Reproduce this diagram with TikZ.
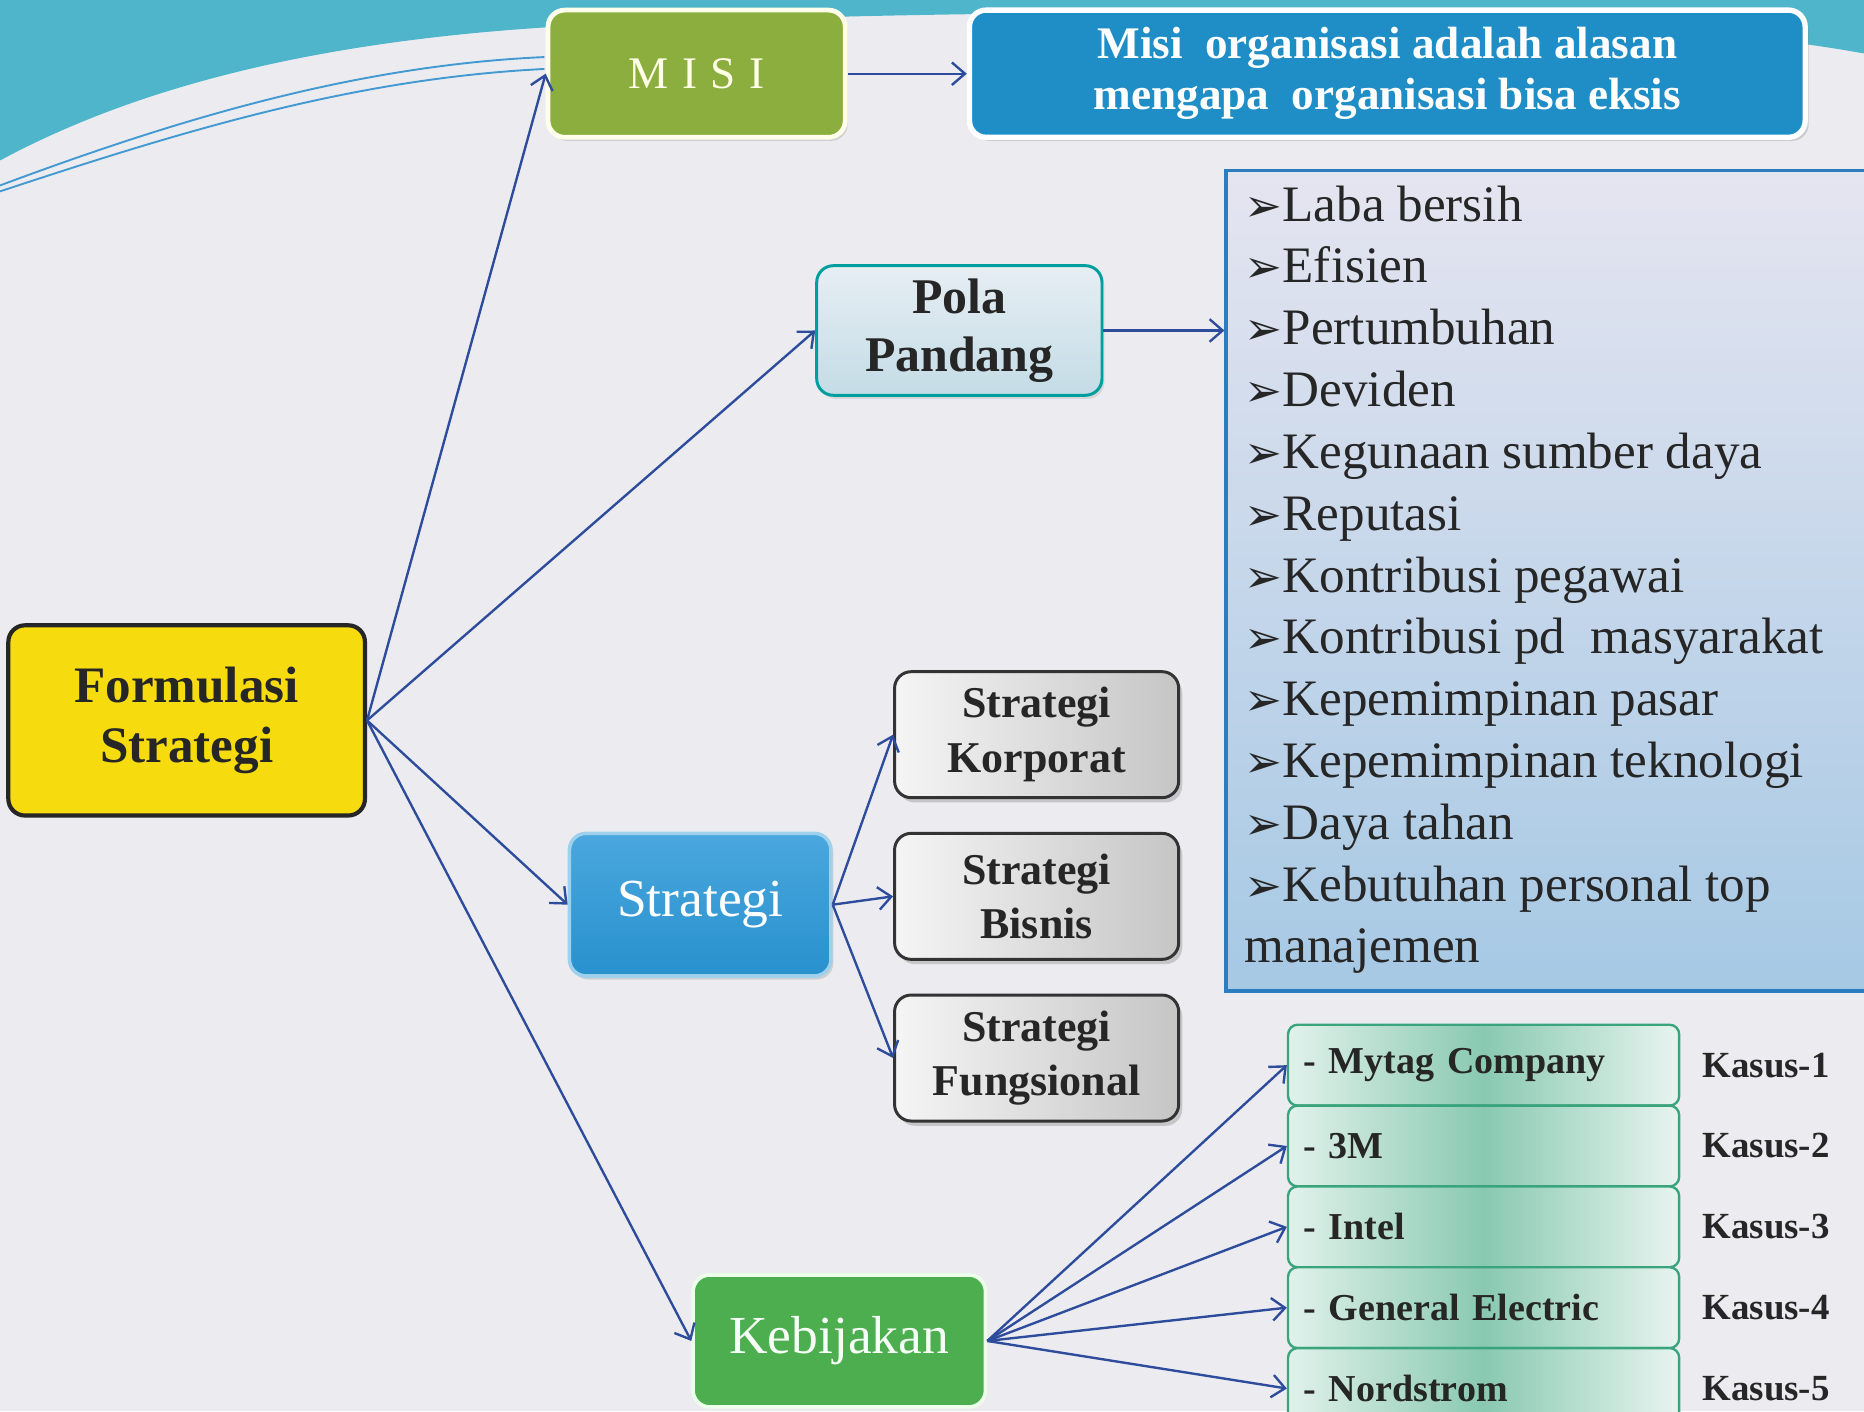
\documentclass[tikz,border=0pt]{standalone}
\usepackage{fontspec}
\setmainfont{Liberation Serif}
\newfontfamily\bulletfont{DejaVu Sans}
\usetikzlibrary{arrows.meta,shadows}

\definecolor{bggray}{HTML}{ECECF0}
\definecolor{bandteal}{HTML}{4FB5CA}
\definecolor{linkblue}{HTML}{2E4C9C}
\definecolor{darktext}{HTML}{262626}
\definecolor{formyellow}{HTML}{F6DB0E}
\definecolor{misigreen}{HTML}{8BAE3F}
\definecolor{descblue}{HTML}{1F8EC6}
\definecolor{stratblue}{HTML}{2A98D8}
\definecolor{kebgreen}{HTML}{4DAE4F}
\definecolor{mintline}{HTML}{3AA57D}
\definecolor{listblue}{HTML}{2B7DBF}
\definecolor{polatop}{HTML}{E6EEF3}
\definecolor{polabot}{HTML}{C4DCE6}

\newcommand{\bul}{{\bulletfont\fontsize{38}{38}\selectfont ➢}}

\tikzset{
  box/.style={rounded corners=14pt, align=center, inner sep=0pt},
  link/.style={draw=linkblue, line width=2pt,
    -{Straight Barb[length=11pt,width=19pt,line width=2pt]}},
  formbox/.style={box, fill=formyellow, draw=black!85, line width=3.5pt,
    minimum width=300pt, minimum height=160pt, text=darktext,
    font=\bfseries\fontsize{43}{50}\selectfont},
  misibox/.style={box, fill=misigreen, draw=yellow!8, line width=4pt,
    minimum width=250pt, minimum height=107pt, text=yellow!10,
    drop shadow={shadow xshift=2pt, shadow yshift=-3pt, opacity=.25}},
  descbox/.style={box, fill=descblue, draw=white, line width=4.5pt,
    minimum width=703pt, minimum height=107pt, text=white,
    font=\bfseries\fontsize{38}{43}\selectfont,
    drop shadow={shadow xshift=3pt, shadow yshift=-3pt, opacity=.3}},
  polabox/.style={box, top color=polatop, bottom color=polabot,
    draw=teal!75!cyan, line width=2.5pt,
    minimum width=240pt, minimum height=109pt, text=darktext,
    font=\bfseries\fontsize{42}{49}\selectfont,
    drop shadow={shadow xshift=2pt, shadow yshift=-3pt, opacity=.2}},
  stratbox/.style={box, top color=stratblue!85!white, bottom color=stratblue!95!black,
    draw=stratblue!45!white, line width=3pt,
    minimum width=220pt, minimum height=120pt, text=white,
    font=\fontsize{45}{45}\selectfont,
    drop shadow={shadow xshift=2pt, shadow yshift=-3pt, opacity=.25}},
  jenisbox/.style={box, left color=gray!8, right color=gray!45,
    draw=black!80, line width=2.5pt,
    minimum width=239pt, minimum height=106pt, text=darktext,
    font=\bfseries\fontsize{37}{46}\selectfont,
    drop shadow={shadow xshift=3pt, shadow yshift=-4pt, opacity=.35}},
  kebbox/.style={box, fill=kebgreen, draw=green!8, line width=3pt,
    minimum width=246pt, minimum height=111pt, text=green!4!white,
    font=\fontsize{45}{45}\selectfont},
  compbox/.style={box, rounded corners=8pt, left color=mintline!15!white,
    right color=mintline!12!white, middle color=mintline!60!white,
    draw=mintline, line width=2pt, align=left,
    minimum height=68pt, text width=303pt, inner xsep=13pt, text=darktext,
    font=\bfseries\fontsize{32}{32}\selectfont},
  kasus/.style={anchor=west, inner sep=0pt, text=darktext,
    font=\bfseries\fontsize{31}{31}\selectfont},
  listbox/.style={anchor=north west, top color=blue!3!bggray, bottom color=listblue!42!white,
    draw=listblue, line width=3pt, minimum width=600pt, minimum height=690pt},
  listtext/.style={anchor=north west, inner sep=0pt, align=left, text=darktext,
    font=\fontsize{43}{52}\selectfont},
  swoosh/.style={draw=bandteal!85!blue, line width=1.6pt}
}

\begin{document}
\begin{tikzpicture}[x=1pt,y=-1pt]
  \useasboundingbox (0,0) rectangle (1568,1187);
  \clip (0,0) rectangle (1568,1187);

  % 背景
  \fill[bggray] (0,0) rectangle (1568,1187);
  \fill[bandteal] (0,0) -- (0,135) .. controls (130,65) and (300,28) .. (520,20)
    .. controls (900,5) and (1350,5) .. (1568,45) -- (1568,0) -- cycle;
  \draw[swoosh] (0,156) .. controls (150,100) and (300,55) .. (458,48);
  \draw[swoosh] (0,161) .. controls (160,108) and (300,66) .. (458,58);

  % 节点
  \node[formbox] (form) at (157,606) {Formulasi\\Strategi};
  \node[misibox] (misi) at (586,62)
    {\fontsize{38}{38}\selectfont\addfontfeature{LetterSpace=30}MISI};
  \node[descbox] (desc) at (1167,62)
    {Misi\ \ organisasi adalah alasan\\mengapa\ \ organisasi bisa eksis};
  \node[polabox] (pola) at (807,278) {Pola\\Pandang};
  \node[listbox] (sasaran) at (1030,142) {};
  \node[listtext] (daftar) at (1047,156) {\bul Laba bersih\\
    \bul Efisien\\
    \bul Pertumbuhan\\
    \bul Deviden\\
    \bul Kegunaan sumber daya\\
    \bul Reputasi\\
    \bul Kontribusi pegawai\\
    \bul Kontribusi pd\ \ masyarakat\\
    \bul Kepemimpinan pasar\\
    \bul Kepemimpinan teknologi\\
    \bul Daya tahan\\
    \bul Kebutuhan personal top\\
    manajemen};
  \node[stratbox] (strat) at (589,761) {Strategi};
  \node[jenisbox] (korp) at (872,618) {Strategi\\Korporat};
  \node[jenisbox] (bisn) at (872,754) {Strategi\\Bisnis};
  \node[jenisbox] (fung) at (872,890) {Strategi\\Fungsional};
  \node[kebbox] (keb) at (706,1128) {Kebijakan};

  % 连线
  \draw[link] (form.east) -- (misi.west);
  \draw[link] (form.east) -- (pola.west);
  \draw[link] (form.east) -- (strat.west);
  \draw[link] (form.east) -- (keb.west);
  \draw[link] (misi.east) -- (desc.west);
  \draw[link] (pola.east) -- (pola.east -| sasaran.west);
  \foreach \j in {korp,bisn,fung}
    \draw[link] (strat.east) -- (\j.west);

  % 案例
  \foreach \nama [count=\i] in {Mytag Company,3M,Intel,General Electric,Nordstrom} {
    \node[compbox] (c\i) at (1248,{828+68*\i}) {- \nama};
    \node[kasus] (k\i) at (1432,{828+68*\i}) {Kasus-\i};
    \draw[link] (keb.east) -- (c\i.west);
  }
\end{tikzpicture}
\end{document}
